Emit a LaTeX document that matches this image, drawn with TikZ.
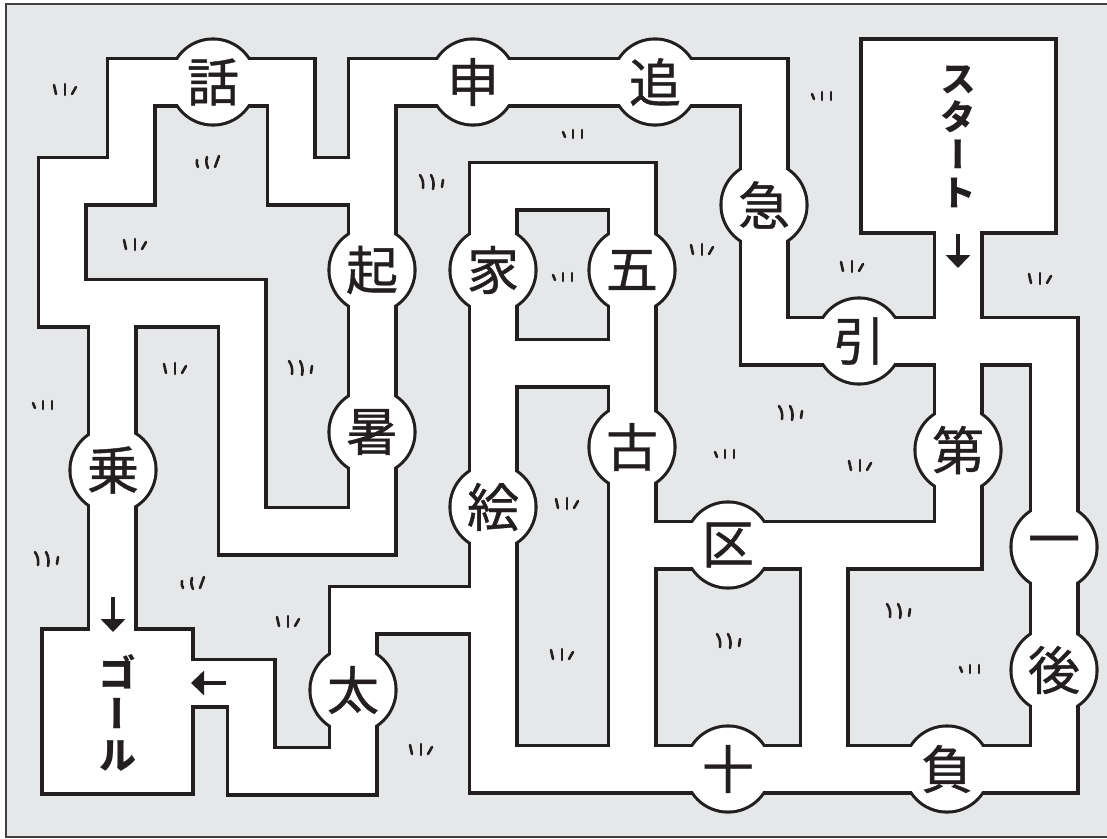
\documentclass[tikz,border=0pt]{standalone}
\usepackage{fontspec}
\newfontfamily\jp[FakeBold=0.8]{Noto Sans CJK JP}
\newfontfamily\jpv[RawFeature=+vert]{Noto Sans CJK JP}
\usetikzlibrary{arrows.meta}
\definecolor{ink}{HTML}{231F20}
\definecolor{bg}{HTML}{E6E7E8}
\tikzset{
 road/.style={line width=51pt, draw=ink, line cap=rect, line join=miter},
 roadw/.style={line width=44.6pt, draw=white, line cap=rect, line join=miter},
 kan/.style={circle, fill=white, minimum size=83pt, inner sep=0pt, font=\jp\fontsize{52}{52}\selectfont, text=ink},
 vlabel/.style={align=center, inner sep=0pt, text=ink},
 grass/.style={line width=2.6pt, line cap=round, draw=ink},
 arr/.style={line width=3.6pt, draw=ink, -{Triangle[width=24pt,length=13pt]}},
 grassA/.pic={\draw[grass] (-11,-5) -- (-9,4); \draw[grass] (0,-6) -- (0,5); \draw[grass] (11,-3) -- (7,4);},
 grassB/.pic={\draw[grass] (-13,-7) to[bend left=20] (-10,6); \draw[grass] (-2,-7) to[bend left=20] (0,7); \draw[grass] (10,-2) -- (9,5);},
 grassC/.pic={\draw[grass] (-10,-2) -- (-8,3); \draw[grass] (0,-4) -- (0,4); \draw[grass] (9,-4) -- (9,4);},
 grassD/.pic={\draw[grass] (-11,-2) to[bend right=20] (-10,5); \draw[grass] (-1,-5) to[bend right=20] (0,6); \draw[grass] (11,-6) -- (7,5);},
}
\newcommand\mazeroads[1]{%
 \draw[#1] (112,303) -- (112,690);
 \draw[#1] (372,531) -- (242,531) -- (242,303) -- (62,303) -- (62,181) -- (131,181) -- (131,82) -- (291,82) -- (291,181) -- (372,181);
 \draw[#1] (372,531) -- (372,82) -- (764,82) -- (764,341) -- (1054,341) -- (1054,769) -- (493,769) -- (493,186) -- (632,186) -- (632,769);
 \draw[#1] (493,363) -- (632,363);
 \draw[#1] (632,545) -- (958,545) -- (958,200);
 \draw[#1] (824,545) -- (824,769);
 \draw[#1] (493,610) -- (353,610) -- (353,771) -- (251,771) -- (251,683) -- (170,683);
}
\begin{document}
\begin{tikzpicture}[x=1pt,y=-1pt]
\useasboundingbox (0,0) rectangle (1107,838);
\fill[bg] (6,4) rectangle (1109,837);
\draw[black!75, line width=1.6pt] (6,4) rectangle (1109,837);
% black layer
\mazeroads{road}
\draw[ink, line width=3.2pt] (861,39) rectangle (1056,233);
\draw[ink, line width=3.2pt] (42,629) rectangle (193,794);
\foreach \x/\y in {213/82,473/82,655/82,764/205,372/270,493/270,632/270,859/341,372/432,113/470,632/447,958/450,493/507,728/545,1054/547,1054/670,353/690,728/769,947/769}
  \fill[ink] (\x,\y) circle[radius=44.6];
% white layer
\mazeroads{roadw}
\fill[white] (862.6,40.6) rectangle (1054.4,231.4);
\fill[white] (43.6,630.6) rectangle (191.4,792.4);
% kanji stations
\node[kan] (wa) at (213,82) {話};
\node[kan] (shin) at (473,82) {申};
\node[kan] (tsui) at (655,82) {追};
\node[kan] (kyu) at (764,205) {急};
\node[kan] (oki) at (372,270) {起};
\node[kan] (ie) at (493,270) {家};
\node[kan] (itsu) at (632,270) {五};
\node[kan] (hiku) at (859,341) {引};
\node[kan] (atsu) at (372,432) {暑};
\node[kan] (noru) at (113,470) {乗};
\node[kan] (furu) at (632,447) {古};
\node[kan] (dai) at (958,450) {第};
\node[kan] (kaiga) at (493,507) {絵};
\node[kan] (kuiki) at (728,545) {区};
\node[kan] (ichi) at (1054,547) {一};
\node[kan] (ato) at (1054,670) {後};
\node[kan] (futo) at (353,690) {太};
\node[kan] (juu) at (728,769) {十};
\node[kan] (make) at (947,769) {負};
% start / goal labels
\node[vlabel, font=\jpv\bfseries\fontsize{36}{38}\selectfont] (starttxt) at (958,137) {ス\\タ\\ー\\ト};
\node[vlabel, font=\jpv\bfseries\fontsize{38}{41}\selectfont] (goaltxt) at (117,713) {ゴ\\ー\\ル};
% arrows
\coordinate (sa1) at (958,234);
\coordinate (sa2) at (958,268);
\coordinate (ga1) at (113,597);
\coordinate (ga2) at (113,632);
\coordinate (gb1) at (226,683);
\coordinate (gb2) at (191,683);
\draw[arr] (sa1) -- (sa2);
\draw[arr] (ga1) -- (ga2);
\draw[arr] (gb1) -- (gb2);
% grass
\foreach \x/\y in {65/90,135/245,175/369,288/622,421/750,702/250,852/267,1040/279,567/504,562/655,860/466}
  \pic at (\x,\y) {grassA};
\foreach \x/\y in {433/182,302/368,48/559,792/413,730/641,900/611}
  \pic at (\x,\y) {grassB};
\foreach \x/\y in {43/405,573/134,563/277,822/96,725/454,970/669}
  \pic at (\x,\y) {grassC};
\foreach \x/\y in {208/162,193/583}
  \pic at (\x,\y) {grassD};
\end{tikzpicture}
\end{document}
